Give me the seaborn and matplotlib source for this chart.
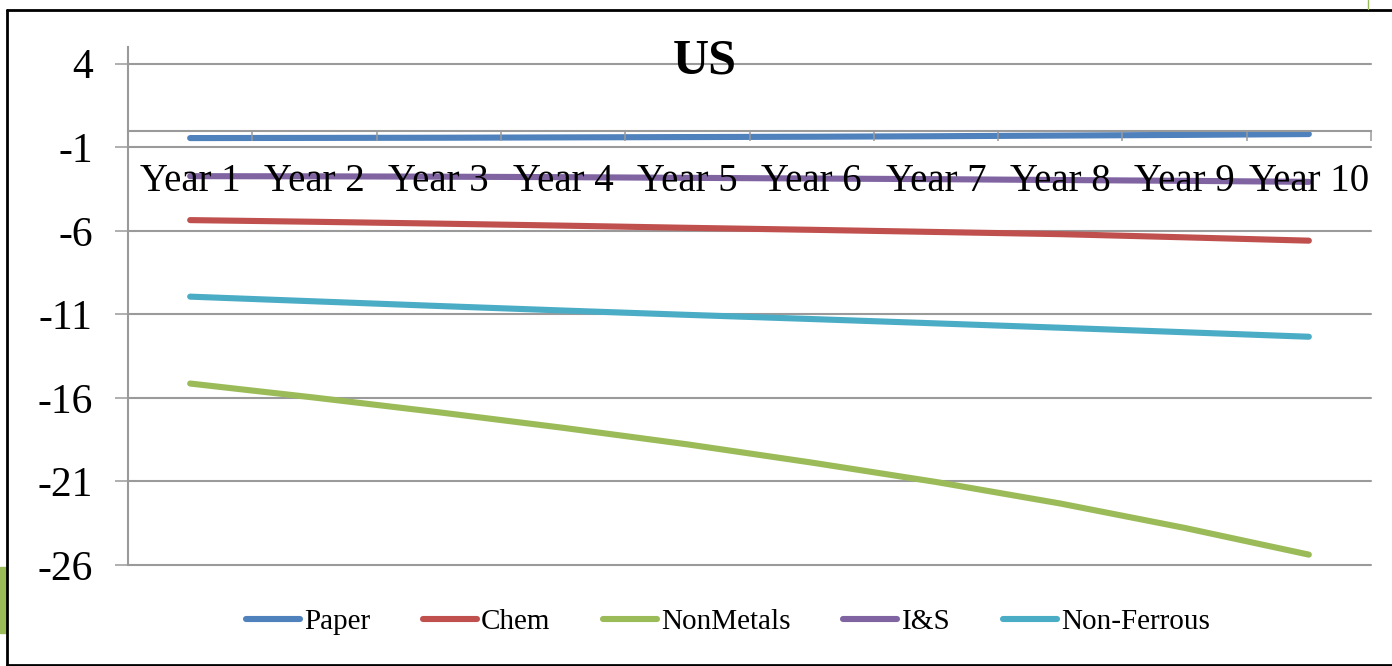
import numpy as np
import pandas as pd
import seaborn as sns
import matplotlib.pyplot as plt
from matplotlib.lines import Line2D
from matplotlib.patches import Rectangle
from matplotlib.ticker import FixedLocator

# Category axis and the five sector series
years = ["Year 1", "Year 2", "Year 3", "Year 4", "Year 5",
         "Year 6", "Year 7", "Year 8", "Year 9", "Year 10"]
paper = [-0.45, -0.44, -0.43, -0.41, -0.39, -0.37, -0.34, -0.30, -0.26, -0.21]
chem = [-5.36, -5.46, -5.57, -5.69, -5.82, -5.94, -6.07, -6.20, -6.39, -6.59]
nonmetals = [-15.14, -15.98, -16.86, -17.79, -18.78, -19.87, -21.03, -22.32, -23.78, -25.38]
iron_steel = [-2.73, -2.74, -2.76, -2.79, -2.83, -2.87, -2.91, -2.96, -3.01, -3.07]
nonferrous = [-9.94, -10.22, -10.50, -10.77, -11.03, -11.28, -11.54, -11.80, -12.07, -12.34]

series_names = ["Paper", "Chem", "NonMetals", "I&S", "Non-Ferrous"]
series_values = [paper, chem, nonmetals, iron_steel, nonferrous]
series_colors = ["#4F81BD", "#C0504D", "#9BBB59", "#8064A2", "#4BACC6"]
y_ticks = [4, -1, -6, -11, -16, -21, -26]

df = pd.DataFrame({
    "Year": years * len(series_names),
    "Value": np.concatenate(series_values),
    "Series": np.repeat(series_names, len(years)),
})

sns.set_theme(style="white")
plt.rcParams["font.family"] = ["Liberation Serif", "DejaVu Serif"]
plt.rcParams["text.color"] = "black"
plt.rcParams["xtick.labelcolor"] = "black"
plt.rcParams["ytick.labelcolor"] = "black"

W, H = 1392, 666
fig = plt.figure(figsize=(W / 100, H / 100), dpi=100)
fig.patch.set_facecolor("white")

left, right, top, bottom = 128, 1371, 47, 565
ax = fig.add_axes([left / W, 1 - bottom / H, (right - left) / W, (bottom - top) / H])

palette = dict(zip(series_names, series_colors))
sns.lineplot(data=df, x="Year", y="Value", hue="Series", hue_order=series_names,
             palette=palette, linewidth=4.4, sort=False, legend=False, ax=ax,
             solid_capstyle="round")

grid_c = "#9a9a9a"
ax.set_xlim(-0.5, len(years) - 0.5)
ax.set_ylim(-26, 5)
ax.set_xlabel("")
ax.set_ylabel("")

# y axis: gridlines at every tick, outward tick marks
ax.set_yticks(y_ticks)
ax.set_yticklabels([str(v) for v in y_ticks])
ax.yaxis.grid(True, color=grid_c, linewidth=1.5)
for g in ax.get_ygridlines():
    g.set_clip_on(False)
ax.tick_params(axis="y", which="major", length=9.4, width=1.1, color=grid_c,
               direction="out", pad=16, labelsize=30, left=True)

# x axis crossing at zero, category labels between boundary tick marks
ax.spines["bottom"].set_position(("data", 0))
ax.spines["bottom"].set_color(grid_c)
ax.spines["bottom"].set_linewidth(1.5)
ax.spines["left"].set_color(grid_c)
ax.spines["left"].set_linewidth(1.5)
ax.spines["top"].set_visible(False)
ax.spines["right"].set_visible(False)
ax.set_xticks(range(len(years)))
ax.set_xticklabels(years)
ax.xaxis.set_minor_locator(FixedLocator(np.arange(-0.5, len(years), 1.0)))
ax.tick_params(axis="x", which="major", length=0, pad=23.5, labelsize=28, bottom=True)
ax.tick_params(axis="x", which="minor", length=7.5, width=1.1, color=grid_c,
               direction="out", bottom=True)
ax.xaxis.set_zorder(3)

ax.text((705 - left) / (right - left), (bottom - 74) / (bottom - top), "US",
        transform=ax.transAxes, ha="center", va="baseline",
        fontsize=36, fontweight="bold", color="black")

handles = [Line2D([0], [0], color=c, lw=4.4, solid_capstyle="round") for c in series_colors]
fig.legend(handles, series_names, loc="center", bbox_to_anchor=(728 / W, 1 - 622 / H),
           ncol=5, frameon=False, fontsize=21, handlelength=1.85, handletextpad=0.15,
           columnspacing=1.8, labelcolor="black")

# slide frame and accents
frame_kw = dict(transform=fig.transFigure, color="black", linewidth=2)
fig.add_artist(Line2D([7 / W, 1], [1 - 10 / H, 1 - 10 / H], **frame_kw))
fig.add_artist(Line2D([7 / W, 7 / W], [1 - 10 / H, 1 - 665 / H], **frame_kw))
fig.add_artist(Line2D([7 / W, 1], [1 - 665 / H, 1 - 665 / H], **frame_kw))
fig.add_artist(Rectangle((0, 1 - 633 / H), 6 / W, 66 / H, transform=fig.transFigure,
                         color="#9BBB59"))
fig.add_artist(Line2D([1368 / W, 1368 / W], [1, 1 - 9 / H], transform=fig.transFigure,
                      color="#9BBB59", linewidth=1))

fig.savefig("out.png", dpi=100)
